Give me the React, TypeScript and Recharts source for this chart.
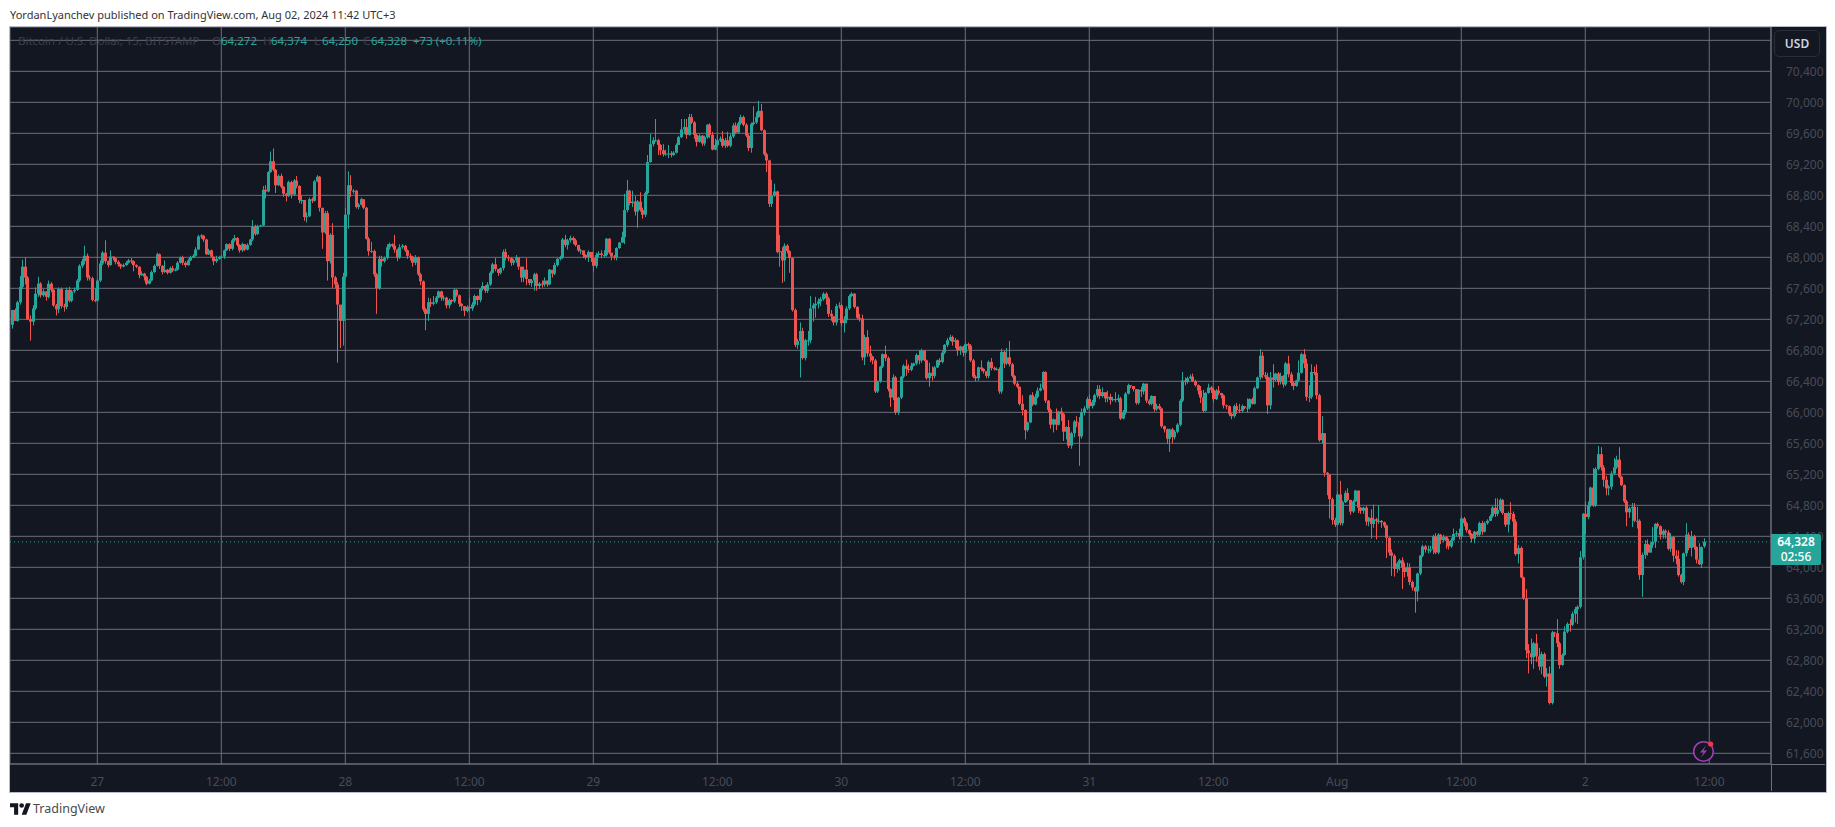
import React from "react";
import {
  Bar,
  CartesianGrid,
  ComposedChart,
  ReferenceLine,
  XAxis,
  YAxis,
} from "recharts";

// 15 minute BTCUSD candles, each block below is one 12 hour stretch ending on a time tick
const closes: number[] = [
  67320,67180,67420,67620,67880,67740,67200,67170,67340,67530,67660,67510,
  67560,67490,67660,67580,67380,67330,67590,67370,67360,67580,67440,67560,
  67580,67700,67890,67950,68020,67740,67730,67450,67440,67700,
  // 27 -> 12:00
  67920,68060,67950,67900,68010,67990,67940,67910,67880,67900,67930,67960,
  67950,67900,67880,67770,67790,67750,67660,67700,67810,67890,68040,67890,
  67810,67840,67800,67860,67830,67840,67930,68000,67930,67900,67960,68000,
  68020,68100,68270,68280,68230,68040,68090,68010,67950,67980,68000,68010,
  // 12:00 -> 28
  68090,68170,68110,68220,68250,68160,68090,68170,68100,68160,68230,68400,
  68300,68400,68410,68870,68850,69100,69240,69130,68930,69050,68910,68820,
  68790,68970,68810,68990,68920,68740,68740,68520,68530,68750,68730,68980,
  69040,68640,68320,68570,67950,68290,67740,67650,67390,67180,67750,68550,
  // 28 -> 12:00
  68930,68860,68860,68650,68680,68750,68640,68240,68080,68080,67780,67600,
  67980,67950,67990,68130,68170,68150,68100,68000,68130,68150,68090,68020,
  68010,67930,68000,67780,67690,67330,67270,67420,67400,67420,67480,67560,
  67480,67480,67380,67450,67430,67580,67510,67400,67370,67310,67360,67340,
  // 12:00 -> 29
  67390,67500,67450,67590,67630,67570,67650,67800,67910,67850,67800,67860,
  68070,68000,67990,67930,67960,68000,67880,67740,67840,67720,67670,67700,
  67780,67630,67660,67650,67700,67650,67840,67790,67900,67980,68000,68230,
  68160,68220,68250,68220,68160,68090,68090,68030,68000,68070,67990,67890,
  // 29 -> 12:00
  68030,68050,68030,68030,68240,68060,68010,68000,68120,68190,68260,68610,
  68860,68700,68720,68590,68720,68610,68550,68830,69230,69460,69510,69510,
  69450,69380,69330,69340,69340,69320,69350,69450,69550,69650,69680,69580,
  69810,69740,69580,69490,69570,69470,69550,69710,69580,69390,69450,69510,
  // 12:00 -> 30
  69530,69440,69510,69440,69560,69700,69610,69730,69810,69710,69570,69410,
  69720,69740,69810,69890,69640,69330,69250,68690,68800,68850,68070,68080,
  67960,68150,68080,67990,67320,66870,66920,67050,66700,66930,66930,67340,
  67380,67400,67430,67460,67530,67470,67270,67240,67160,67370,67380,67150,
  // 30 -> 12:00
  67190,67340,67500,67530,67360,67220,67210,66710,66970,66760,66720,66670,
  66270,66400,66590,66750,66700,66300,66190,66450,66000,66190,66460,66600,
  66560,66550,66600,66630,66740,66670,66800,66670,66440,66510,66470,66580,
  66670,66650,66770,66870,66930,66970,66910,66930,66800,66850,66770,66880,
  // 12:00 -> 31
  66860,66670,66460,66440,66580,66560,66530,66470,66650,66570,66560,66560,
  66270,66780,66630,66710,66620,66470,66370,66330,66110,66030,65770,65870,
  66220,66100,66200,66280,66310,66520,66150,66030,65840,65910,65840,66010,
  65980,65750,65810,65570,65730,65880,65870,65690,66000,66050,66170,66080,
  // 31 -> 12:00
  66130,66220,66300,66210,66260,66180,66200,66160,66170,66160,66180,65920,
  66000,66240,66350,66340,66300,66120,66290,66270,66370,66150,66110,66210,
  66040,66080,66050,65820,65780,65660,65780,65680,65750,65840,66150,66410,
  66390,66440,66460,66400,66350,66280,66190,66020,66250,66320,66290,66170,
  // 12:00 -> Aug
  66280,66250,66220,66090,66080,65980,65950,66080,66030,66020,66080,66060,
  66060,66170,66110,66310,66450,66730,66480,66460,66090,66450,66420,66500,
  66390,66470,66360,66630,66490,66380,66340,66410,66510,66750,66630,66200,
  66200,66520,66510,66220,65640,65730,65220,65200,64880,64610,64550,64940,
  // Aug -> 12:00
  64570,64840,64960,64870,64720,64850,64990,64770,64730,64770,64590,64640,
  64560,64620,64600,64600,64580,64540,64380,64190,64150,63980,64050,64090,
  64000,63940,64000,63810,63740,63690,63920,64150,64270,64230,64230,64230,
  64400,64190,64420,64350,64390,64340,64270,64350,64430,64440,64400,64630,
  // 12:00 -> 2
  64570,64480,64430,64370,64460,64420,64570,64460,64570,64600,64660,64770,
  64690,64740,64870,64700,64550,64700,64690,64590,64170,64250,63870,63600,
  62930,62890,62840,63020,62850,62720,62880,62590,62630,62250,63160,63150,
  63020,62740,62870,63170,63270,63260,63400,63460,63490,64130,64690,64650,
  // 2 -> now
  64800,65030,64800,65270,65460,65290,65130,65020,65040,65210,65290,65390,
  65170,65060,64850,64710,64760,64780,64600,64600,63900,64160,64300,64190,
  64290,64330,64560,64530,64420,64470,64450,64240,64390,64150,64110,63900,
  63810,64180,64420,64250,64400,64260,64100,64040,64260,64328,
];

const opens: number[] = [
  67130,67320,67180,67420,67620,67880,67740,67200,67170,67340,67530,67660,
  67510,67560,67490,67660,67580,67380,67330,67590,67370,67360,67580,67440,
  67560,67580,67700,67890,67950,68020,67740,67730,67450,67440,
  67700,67920,68060,67950,67900,68010,67990,67940,67910,67880,67900,67930,
  67960,67950,67900,67880,67770,67790,67750,67660,67700,67810,67890,68040,
  67890,67810,67840,67800,67860,67830,67840,67930,68000,67930,67900,67960,
  68000,68020,68100,68270,68280,68230,68040,68090,68010,67950,67980,68000,
  68010,68090,68170,68110,68220,68250,68160,68090,68170,68100,68160,68230,
  68400,68300,68400,68410,68870,68850,69100,69240,69130,68930,69050,68910,
  68820,68790,68970,68810,68990,68920,68740,68740,68520,68530,68750,68730,
  68980,69040,68640,68320,68570,67950,68290,67740,67650,67390,67180,67750,
  68550,68930,68860,68860,68650,68680,68750,68640,68240,68080,68080,67780,
  67600,67980,67950,67990,68130,68170,68150,68100,68000,68130,68150,68090,
  68020,68010,67930,68000,67780,67690,67330,67270,67420,67400,67420,67480,
  67560,67480,67480,67380,67450,67430,67580,67510,67400,67370,67310,67360,
  67340,67390,67500,67450,67590,67630,67570,67650,67800,67910,67850,67800,
  67860,68070,68000,67990,67930,67960,68000,67880,67740,67840,67720,67670,
  67700,67780,67630,67660,67650,67700,67650,67840,67790,67900,67980,68000,
  68230,68160,68220,68250,68220,68160,68090,68090,68030,68000,68070,67990,
  67890,68030,68050,68030,68030,68240,68060,68010,68000,68120,68190,68260,
  68610,68860,68700,68720,68590,68720,68610,68550,68830,69230,69460,69510,
  69510,69450,69380,69330,69340,69340,69320,69350,69450,69550,69650,69680,
  69580,69810,69740,69580,69490,69570,69470,69550,69710,69580,69390,69450,
  69510,69530,69440,69510,69440,69560,69700,69610,69730,69810,69710,69570,
  69410,69720,69740,69810,69890,69640,69330,69250,68690,68800,68850,68070,
  68080,67960,68150,68080,67990,67320,66870,66920,67050,66700,66930,66930,
  67340,67380,67400,67430,67460,67530,67470,67270,67240,67160,67370,67380,
  67150,67190,67340,67500,67530,67360,67220,67210,66710,66970,66760,66720,
  66670,66270,66400,66590,66750,66700,66300,66190,66450,66000,66190,66460,
  66600,66560,66550,66600,66630,66740,66670,66800,66670,66440,66510,66470,
  66580,66670,66650,66770,66870,66930,66970,66910,66930,66800,66850,66770,
  66880,66860,66670,66460,66440,66580,66560,66530,66470,66650,66570,66560,
  66560,66270,66780,66630,66710,66620,66470,66370,66330,66110,66030,65770,
  65870,66220,66100,66200,66280,66310,66520,66150,66030,65840,65910,65840,
  66010,65980,65750,65810,65570,65730,65880,65870,65690,66000,66050,66170,
  66080,66130,66220,66300,66210,66260,66180,66200,66160,66170,66160,66180,
  65920,66000,66240,66350,66340,66300,66120,66290,66270,66370,66150,66110,
  66210,66040,66080,66050,65820,65780,65660,65780,65680,65750,65840,66150,
  66410,66390,66440,66460,66400,66350,66280,66190,66020,66250,66320,66290,
  66170,66280,66250,66220,66090,66080,65980,65950,66080,66030,66020,66080,
  66060,66060,66170,66110,66310,66450,66730,66480,66460,66090,66450,66420,
  66500,66390,66470,66360,66630,66490,66380,66340,66410,66510,66750,66630,
  66200,66200,66520,66510,66220,65640,65730,65220,65200,64880,64610,64550,
  64940,64570,64840,64960,64870,64720,64850,64990,64770,64730,64770,64590,
  64640,64560,64620,64600,64600,64580,64540,64380,64190,64150,63980,64050,
  64090,64000,63940,64000,63810,63740,63690,63920,64150,64270,64230,64230,
  64230,64400,64190,64420,64350,64390,64340,64270,64350,64430,64440,64400,
  64630,64570,64480,64430,64370,64460,64420,64570,64460,64570,64600,64660,
  64770,64690,64740,64870,64700,64550,64700,64690,64590,64170,64250,63870,
  63600,62930,62890,62840,63020,62850,62720,62880,62590,62630,62250,63160,
  63150,63020,62740,62870,63170,63270,63260,63400,63460,63490,64130,64690,
  64650,64800,65030,64800,65270,65460,65290,65130,65020,65040,65210,65290,
  65390,65170,65060,64850,64710,64760,64780,64600,64600,63900,64160,64300,
  64190,64290,64330,64560,64530,64420,64470,64450,64240,64390,64150,64110,
  63900,63810,64180,64420,64250,64400,64260,64100,64040,64272,
];

const highs: number[] = [
  67320,67340,67440,67760,67970,68000,67760,67250,67380,67610,67750,67680,
  67590,67560,67700,67680,67590,67400,67610,67610,67400,67610,67620,67580,
  67610,67720,67910,67980,68150,68050,67770,67750,67600,67720,
  67960,68080,68220,67960,68090,68010,68000,67960,67920,67920,67950,67980,
  67990,67960,67910,67880,67820,67800,67760,67720,67830,67910,68060,68050,
  67900,67960,67850,67880,67890,67860,67950,68010,68020,67950,67980,68020,
  68040,68130,68290,68300,68290,68240,68110,68100,68010,68020,68020,68030,
  68100,68180,68180,68240,68290,68260,68170,68190,68170,68180,68240,68480,
  68420,68420,68420,68920,68930,69110,69365,69405,69140,69070,69080,68920,
  68830,68990,68990,69010,69050,68930,68800,68740,68580,68770,68770,69000,
  69060,69050,68580,68600,68600,68310,68440,67760,67680,67350,67800,68640,
  69110,69060,68880,68870,68700,68770,68750,68650,68260,68200,68100,67800,
  68020,68020,68010,68170,68190,68180,68290,68110,68170,68170,68160,68100,
  68050,68020,68030,68010,67800,67700,67350,67480,67470,67500,67500,67570,
  67570,67510,67490,67470,67460,67600,67590,67520,67410,67370,67380,67480,
  67420,67520,67510,67600,67680,67640,67680,67820,67930,67990,67850,67870,
  68100,68110,68030,68000,67980,68030,68000,67800,67880,67990,67700,67720,
  67800,67800,67680,67700,67740,67700,67850,67830,67930,67990,68020,68250,
  68290,68240,68280,68270,68240,68110,68110,68060,68040,68090,68040,67960,
  68060,68080,68090,68090,68250,68250,68040,68030,68130,68200,68330,68820,
  69000,68870,68860,68790,68740,68840,68640,68850,69320,69590,69550,69785,
  69530,69460,69460,69390,69450,69370,69370,69470,69570,69785,69785,69785,
  69850,69850,69760,69600,69590,69580,69570,69720,69730,69620,69530,69580,
  69560,69630,69540,69620,69590,69730,69740,69750,69840,69830,69730,69590,
  69740,69950,69870,70020,69980,69650,69350,69260,69000,68950,68860,68290,
  68130,68180,68170,68090,68000,67340,66950,67160,67090,66950,67050,67500,
  67410,67490,67470,67490,67550,67550,67490,67320,67210,67400,67420,67400,
  67240,67370,67520,67550,67540,67370,67270,67260,67000,67060,66860,66730,
  66690,66410,66600,66760,66860,66720,66310,66490,66470,66200,66470,66620,
  66680,66620,66640,66640,66760,66800,66820,66800,66680,66640,66590,66600,
  66680,66700,66790,66880,66960,67000,66990,66960,66940,66860,66860,66900,
  66900,66880,66690,66480,66590,66670,66570,66530,66670,66700,66590,66580,
  66580,66820,66800,66830,66920,66640,66480,66400,66330,66220,66040,65880,
  66230,66260,66240,66320,66370,66530,66530,66160,66050,65920,66050,66020,
  66060,65990,65820,65900,65750,65900,65950,65940,66050,66080,66200,66230,
  66160,66240,66350,66350,66320,66250,66280,66240,66200,66260,66230,66200,
  66030,66260,66370,66350,66330,66180,66300,66330,66380,66370,66170,66220,
  66210,66110,66110,66060,65830,65790,65790,65800,65770,65860,66170,66520,
  66450,66460,66490,66500,66420,66360,66340,66290,66260,66370,66340,66320,
  66300,66340,66250,66230,66100,66090,65990,66100,66120,66110,66100,66070,
  66180,66180,66190,66330,66460,66815,66780,66520,66510,66520,66620,66510,
  66520,66510,66480,66650,66730,66520,66400,66420,66670,66770,66815,66690,
  66350,66620,66590,66620,66240,65950,65730,65230,65160,64900,64640,64970,
  65115,64860,64990,65020,64870,64870,65000,64990,64780,64780,64790,64650,
  64750,64810,64640,64800,64610,64590,64550,64390,64230,64170,64070,64110,
  64130,64060,64060,64050,63830,63750,63930,64160,64290,64290,64280,64280,
  64420,64440,64440,64430,64420,64400,64370,64380,64500,64470,64500,64650,
  64650,64590,64490,64440,64470,64470,64590,64600,64590,64620,64680,64790,
  64890,64890,64890,64880,64700,64720,64840,64720,64620,64290,64270,63880,
  63720,63010,63080,63040,63140,62960,62910,62900,62700,62720,63180,63170,
  63330,63040,62890,63240,63290,63330,63430,63490,63510,64210,64700,64850,
  64850,65040,65280,65290,65565,65550,65320,65180,65060,65240,65410,65440,
  65550,65180,65070,64870,64780,64830,64830,64780,64620,64190,64350,64360,
  64320,64520,64570,64580,64540,64490,64490,64480,64440,64400,64220,64220,
  63920,64190,64570,64450,64470,64420,64270,64310,64270,64374,
];

const lows: number[] = [
  67080,67180,67170,67390,67590,67650,67190,66925,67120,67320,67490,67480,
  67490,67440,67470,67550,67360,67250,67280,67340,67300,67330,67420,67420,
  67540,67570,67680,67860,67910,67700,67700,67430,67420,67430,
  67680,67900,67920,67870,67890,67960,67910,67880,67850,67870,67890,67920,
  67920,67820,67860,67730,67760,67700,67640,67650,67690,67800,67880,67850,
  67780,67800,67780,67790,67810,67820,67830,67920,67900,67870,67890,67950,
  67990,68010,68100,68240,68200,68030,68030,68000,67900,67930,67970,67990,
  67980,68080,68080,68090,68200,68140,68060,68070,68080,68090,68150,68210,
  68280,68290,68390,68400,68760,68840,69090,69110,68830,68920,68890,68780,
  68720,68780,68760,68790,68890,68700,68690,68470,68450,68520,68700,68720,
  68970,68590,68110,68300,67700,67920,67600,67600,66640,66830,66860,67730,
  68370,68780,68820,68630,68620,68670,68620,68230,68020,68060,67750,67270,
  67580,67880,67930,67970,68100,68130,68060,67950,67980,68110,68070,67980,
  67960,67880,67900,67760,67640,67300,67060,67180,67360,67380,67400,67470,
  67440,67440,67340,67340,67400,67410,67490,67360,67310,67240,67290,67300,
  67310,67370,67380,67420,67570,67540,67540,67630,67790,67820,67760,67780,
  67830,67960,67950,67890,67900,67930,67840,67680,67680,67640,67640,67620,
  67570,67570,67590,67610,67620,67620,67640,67740,67770,67880,67960,67980,
  68130,68100,68190,68170,68140,68070,68040,67990,67970,67940,67940,67820,
  67860,68000,67990,68000,68010,68040,67960,67970,67960,68110,68190,68170,
  68580,68670,68650,68540,68380,68590,68500,68520,68810,69220,69430,69490,
  69320,69320,69300,69310,69280,69290,69310,69340,69500,69540,69600,69530,
  69570,69720,69530,69430,69480,69440,69440,69530,69540,69380,69380,69430,
  69490,69420,69410,69420,69420,69540,69590,69600,69710,69690,69550,69370,
  69350,69700,69720,69800,69630,69310,69100,68650,68650,68780,68050,67880,
  67670,67690,68050,67800,67300,66840,66820,66450,66680,66670,66860,66890,
  67170,67220,67340,67370,67440,67390,67230,67180,67120,67120,67340,67110,
  67030,67150,67320,67490,67340,67200,67170,66670,66610,66720,66650,66620,
  66250,66250,66380,66570,66660,66270,66070,66160,65970,65970,66170,66440,
  66470,66510,66530,66590,66610,66620,66640,66660,66420,66330,66410,66440,
  66570,66610,66630,66750,66840,66920,66860,66830,66730,66740,66720,66740,
  66810,66650,66440,66400,66410,66530,66500,66440,66440,66540,66540,66540,
  66240,66240,66570,66610,66590,66450,66350,66310,66090,65960,65650,65750,
  65860,66080,66090,66180,66270,66290,66120,66000,65790,65740,65770,65830,
  65890,65630,65650,65540,65530,65680,65810,65310,65660,65960,66030,66060,
  66050,66090,66190,66170,66190,66130,66130,66100,66140,66130,66130,65900,
  65910,65970,66230,66310,66270,66100,66100,66200,66230,66120,66090,66090,
  66010,66020,66030,65800,65740,65590,65490,65600,65650,65730,65820,66130,
  66350,66370,66430,66390,66330,66230,66120,66000,66010,66240,66250,66130,
  66160,66220,66180,66050,66040,65950,65910,65930,65980,65990,66000,66040,
  66000,66040,66100,66100,66300,66420,66440,66430,65980,66040,66320,66400,
  66350,66360,66320,66340,66450,66340,66290,66330,66390,66500,66570,66150,
  66130,66170,66480,66170,65620,65600,65170,64930,64630,64550,64520,64540,
  64540,64540,64830,64850,64680,64700,64840,64700,64690,64690,64540,64530,
  64370,64510,64360,64560,64510,64510,64120,64150,63890,63880,63930,63960,
  63720,63870,63880,63770,63700,63415,63560,63900,64130,64190,64180,64190,
  64170,64170,64170,64300,64320,64240,64230,64250,64340,64400,64360,64370,
  64530,64450,64410,64320,64310,64400,64400,64420,64450,64550,64600,64640,
  64650,64660,64720,64680,64520,64450,64620,64400,64150,64050,63860,63580,
  62830,62630,62750,62690,62780,62670,62620,62570,62460,62230,62230,63100,
  62970,62690,62730,62860,63150,63170,63240,63290,63270,63470,64100,64430,
  64620,64780,64780,64780,65250,65250,65040,64930,64930,65000,65190,65270,
  65150,65050,64830,64530,64640,64520,64580,64500,63840,63620,64110,64150,
  64190,64250,64250,64500,64360,64370,64370,64220,64200,64070,64040,63880,
  63790,63770,64140,64220,64140,64230,64050,64030,63990,64250,
];

const priceTicks = [
  61600, 62000, 62400, 62800, 63200, 63600, 64000, 64400, 64800, 65200, 65600, 66000,
  66400, 66800, 67200, 67600, 68000, 68400, 68800, 69200, 69600, 70000, 70400, 70800,
];
const timeLabels = ["27", "12:00", "28", "12:00", "29", "12:00", "30", "12:00", "31", "12:00", "Aug", "12:00", "2", "12:00"];
const BARS_PER_LABEL = 48;
const timeTicks = timeLabels.map((_, i) => i * BARS_PER_LABEL);

const lastPrice = 64328;
const UP = "#26a69a";
const DOWN = "#ef5350";
const BG = "#131722";
const GRID = "#6c6f7a";
const AXIS_TEXT = "#484b57";
const FONT = "'Noto Sans', sans-serif";

const chartData = closes.map((close, i) => ({
  t: i - 33,
  open: opens[i],
  high: highs[i],
  low: lows[i],
  close,
  range: [lows[i], highs[i]],
}));

function Candle(props: any) {
  const { x, y, width, height, payload } = props;
  const { open, close, high, low } = payload;
  const color = close >= open ? UP : DOWN;
  const perDollar = height / Math.max(high - low, 1);
  const top = y + (high - Math.max(open, close)) * perDollar;
  const bodyH = Math.max(Math.abs(open - close) * perDollar, 1);
  const cx = Math.round(x + width / 2);
  return (
    <g>
      <rect x={cx} y={y} width={1} height={height} fill={color} />
      <rect x={cx - 1} y={top} width={3} height={bodyH} fill={color} />
    </g>
  );
}

const legendDim = "#3d404c";
const legendBits: [string, number, string][] = [
  ["Bitcoin / U.S. Dollar, 15, BITSTAMP", 18, legendDim],
  ["O", 212, legendDim],
  ["64,272", 221, UP],
  ["H", 263, legendDim],
  ["64,374", 271, UP],
  ["L", 314, legendDim],
  ["64,250", 322, UP],
  ["C", 363, legendDim],
  ["64,328", 371, UP],
  ["+73 (+0.11%)", 413, UP],
];

export default function App() {
  return (
    <div style={{ position: "absolute", left: 0, top: 0, width: 1835, height: 827, background: "#fff", overflow: "hidden", fontFamily: FONT }}>
      <style>{"body{margin:0}"}</style>
      <div style={{ position: "absolute", left: 10, top: 7, fontSize: 11, color: "#333", whiteSpace: "nowrap" }}>
        YordanLyanchev published on TradingView.com, Aug 02, 2024 11:42 UTC+3
      </div>

      <div style={{ position: "absolute", left: 9, top: 26, width: 1816, height: 765, border: "1px solid #b9bcc4", background: BG }} />

      <div style={{ position: "absolute", left: 10, top: 27 }}>
        <ComposedChart width={1815} height={764} data={chartData} margin={{ top: 0, right: 0, bottom: 0, left: 0 }}>
          <CartesianGrid stroke={GRID} strokeWidth={1} />
          <XAxis
            dataKey="t"
            type="number"
            domain={[-33.8, 647.9]}
            ticks={timeTicks}
            interval={0}
            allowDataOverflow
            height={27}
            axisLine={{ stroke: GRID }}
            tickLine={false}
            tickMargin={7}
            tick={{ fontSize: 12, fill: AXIS_TEXT, fontFamily: FONT }}
            tickFormatter={(v: number) => timeLabels[v / BARS_PER_LABEL]}
          />
          <YAxis
            orientation="right"
            type="number"
            domain={[61462, 70972]}
            ticks={priceTicks}
            interval={0}
            allowDataOverflow
            width={54}
            axisLine={{ stroke: GRID }}
            tickLine={false}
            tickMargin={9}
            tick={{ fontSize: 12, fill: AXIS_TEXT, fontFamily: FONT }}
            tickFormatter={(v: number) => (v > 70400 ? "" : v.toLocaleString("en-US"))}
          />
          <ReferenceLine y={lastPrice} stroke={UP} strokeDasharray="1 3" />
          <Bar dataKey="range" barSize={3} isAnimationActive={false} shape={<Candle />} />
        </ComposedChart>
      </div>

      {/* axis separators run on into the corner */}
      <div style={{ position: "absolute", left: 1771, top: 764, width: 1, height: 27, background: GRID }} />
      <div style={{ position: "absolute", left: 1771, top: 764, width: 54, height: 1, background: GRID }} />

      {legendBits.map(([text, left, color]) => (
        <div key={text + left} style={{ position: "absolute", left, top: 33, fontSize: 11.5, color, whiteSpace: "nowrap" }}>
          {text}
        </div>
      ))}

      <div style={{ position: "absolute", left: 1774, top: 30, width: 46, height: 27, boxSizing: "border-box", border: "1px solid #2a2e39", borderRadius: 5, background: BG, color: "#d1d4dc", fontSize: 12, fontWeight: 600, lineHeight: "25px", textAlign: "center" }}>
        USD
      </div>

      <div style={{ position: "absolute", left: 1771, top: 534, width: 50, height: 31, background: UP, color: "#fff", fontSize: 12, lineHeight: "15px", textAlign: "center", fontWeight: 600, borderRadius: "0 2px 2px 0" }}>
        64,328
        <br />
        <span style={{ fontWeight: 500 }}>02:56</span>
      </div>

      <svg style={{ position: "absolute", left: 1690, top: 738 }} width={30} height={28}>
        <circle cx={13.5} cy={13.5} r={9.8} fill={BG} stroke="#9c3fb0" strokeWidth={1.6} />
        <path d="M16 7.5 L10 14.5 H13.5 L11 19.5 L17 12.5 H13.5 Z" fill="#9c3fb0" />
        <circle cx={20.7} cy={6} r={2.6} fill="#f23645" />
      </svg>

      <svg style={{ position: "absolute", left: 10, top: 803 }} width={21} height={12} viewBox="0 0 36 20">
        <path d="M14 20H7V7H0V0h14v20zM28 20h-8L27.5 0h8L28 20z" fill="#131722" />
        <circle cx={20} cy={4} r={4} fill="#131722" />
      </svg>
      <div style={{ position: "absolute", left: 33, top: 800, fontSize: 12.5, color: "#4a4a4a", whiteSpace: "nowrap" }}>TradingView</div>
    </div>
  );
}
